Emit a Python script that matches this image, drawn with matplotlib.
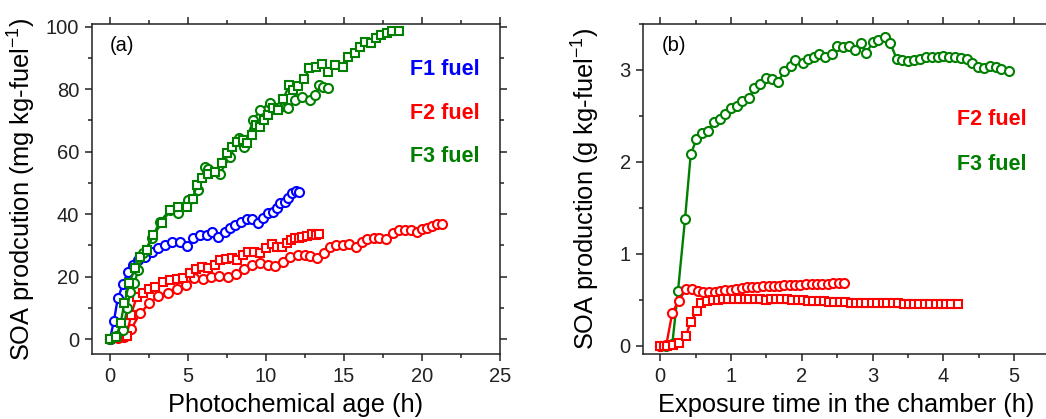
import matplotlib
matplotlib.use("Agg")
import matplotlib.pyplot as plt
from matplotlib.ticker import MultipleLocator

plt.rcParams['font.family'] = ['Liberation Sans', 'DejaVu Sans']
plt.rcParams['mathtext.fontset'] = 'custom'
plt.rcParams['mathtext.rm'] = 'Liberation Sans'
plt.rcParams['mathtext.default'] = 'regular'

# ---- panel (a): photochemical age (h) vs SOA (mg/kg-fuel)
f1_age = [0, 0.25, 0.5, 0.83, 1.15, 1.5, 1.81, 2.24, 2.67, 3.1, 3.53, 3.95, 4.49, 4.91,
          5.34, 5.77, 6.2, 6.56, 6.94, 7.37, 7.69, 8.0, 8.4, 8.76, 9.12, 9.5, 9.83, 10.15,
          10.47, 10.68, 10.9, 11.2, 11.4, 11.65, 11.9, 12.1]
f1_soa = [0, 5.8, 13, 17.5, 21.6, 23.7, 25.3, 26.4, 28, 29, 30.1, 31.2, 31.2, 29.8,
          32.2, 33.3, 33.3, 34.4, 32.8, 34.4, 35.4, 36.5, 37.6, 38.3, 38.3, 37.2, 38.6, 40.2,
          40.8, 41.8, 43.4, 44, 45, 46.6, 47.5, 47]

f2c_age = [0, 0.5, 0.9, 1.35, 1.92, 2.52, 3.1, 3.7, 4.27, 4.87, 5.38, 5.94, 6.45, 6.99,
           7.54, 8.08, 8.61, 9.12, 9.62, 10.1, 10.58, 11.07, 11.54, 12.03, 12.5, 12.82, 13.25,
           13.7, 14.1, 14.5, 14.96, 15.3, 15.77, 16.13, 16.5, 16.9, 17.26, 17.7, 18.16, 18.5,
           18.9, 19.3, 19.66, 19.98, 20.3, 20.62, 20.94, 21.26]
f2c_soa = [0, 0.3, 0.6, 3.1, 8.2, 11.4, 13.8, 14.6, 15.9, 17.3, 19.4, 19.1, 19.9, 20.2,
           19.9, 20.8, 22.3, 23.7, 24.2, 23.7, 23.4, 24.8, 26.2, 26.9, 26.9, 26.6, 26,
           27.4, 29.6, 30.1, 30.1, 30.3, 29.4, 31.2, 31.9, 32.4, 32.4, 31.9, 33.8, 34.9,
           34.9, 34.9, 34.4, 35.1, 35.7, 36.3, 36.8, 36.8]

f2s_age = [0, 0.53, 1.07, 1.35, 1.71, 2.14, 2.52, 2.88, 3.42, 3.85, 4.27, 4.7, 5.13, 5.51,
           5.88, 6.3, 6.73, 7.05, 7.44, 7.8, 8.12, 8.5, 8.87, 9.23, 9.62, 10.0, 10.37, 10.68,
           11.0, 11.33, 11.58, 11.83, 12.1, 12.33, 12.6, 12.93, 13.2, 13.4]
f2s_soa = [0, 0.7, 1.0, 7.7, 13.5, 14.6, 15.9, 16.8, 18.4, 18.9, 19.1, 19.4, 21.2, 22.3,
           23.2, 22.6, 23.7, 25.3, 25.5, 25.8, 25.3, 26.9, 27.8, 28, 27.4, 29, 30.3, 29.6,
           29.6, 30.6, 31.7, 32.2, 32.5, 32.8, 33.1, 33.6, 33.3, 33.5]

f3c_age = [0, 0.4, 0.85, 1.1, 1.3, 1.56, 1.8, 2.14, 2.67, 3.2, 3.85, 4.38, 5.02, 5.66,
           6.09, 6.3, 7.05, 7.69, 8.29, 8.59, 9.19, 9.62, 10.26, 10.9, 11.43, 11.86, 12.29,
           12.82, 13.14, 13.42, 13.67, 14.0]
f3c_soa = [0, 1, 2.9, 10, 15, 17.8, 22, 27.4, 32.2, 37.6, 41.3, 40.2, 44.5, 47.7,
           55.2, 54.6, 53, 58.4, 64.3, 61.6, 70.1, 73.3, 75.5, 74.4, 73.9, 76.5, 77.6,
           76.5, 78.1, 81.3, 80.8, 80.3]

f3s_age = [0, 0.38, 0.69, 0.92, 1.24, 1.6, 1.92, 2.35, 2.78, 3.31, 3.85, 4.38, 4.91, 5.3,
           5.56, 5.88, 6.3, 6.73, 7.16, 7.48, 7.8, 8.16, 8.5, 8.8, 9.08, 9.36, 9.62, 9.87,
           10.15, 10.47, 10.79, 11.1, 11.5, 11.75, 12.07, 12.44, 12.78, 13.2, 13.57, 14.0,
           14.42, 14.96, 15.28, 15.7, 16.03, 16.35, 16.7, 17.05, 17.4, 17.78, 18.1, 18.54]
f3s_soa = [0, 0.5, 5.2, 11.6, 18, 22.6, 26.4, 28.5, 33.3, 37, 41.3, 42.2, 42.4, 44.8,
           49.3, 51.5, 53, 53.6, 56.3, 59.5, 61.6, 63.2, 63.7, 62.7, 65.3, 68.5, 68, 70.1,
           71.7, 73.9, 73.3, 76.8, 81.3, 79.7, 81, 83.1, 86.7, 87.2, 88, 85.6,
           87.7, 87.2, 90.4, 91.7, 93.6, 95.2, 94.9, 96.3, 97.3, 98.1, 98.7, 98.7]

# ---- panel (b): exposure time (h) vs SOA (g/kg-fuel)
b3_t = [0, 0.08, 0.17, 0.25, 0.35, 0.43, 0.51, 0.59, 0.67, 0.76, 0.84, 0.92, 1.0, 1.08,
        1.16, 1.25, 1.33, 1.41, 1.5, 1.58, 1.67, 1.75, 1.84, 1.91, 2.01, 2.09, 2.17, 2.24,
        2.33, 2.42, 2.5, 2.58, 2.67, 2.75, 2.83, 2.91, 3.0, 3.08, 3.17, 3.25, 3.34, 3.42,
        3.5, 3.58, 3.67, 3.75, 3.84, 3.92, 4.0, 4.08, 4.16, 4.25, 4.33, 4.41, 4.49, 4.58,
        4.66, 4.74, 4.82, 4.92]
b3_soa = [0, 0, 0.02, 0.595, 1.38, 2.08, 2.245, 2.31, 2.33, 2.43, 2.47, 2.52, 2.58, 2.61,
          2.66, 2.69, 2.8, 2.85, 2.91, 2.9, 2.87, 2.99, 3.04, 3.11, 3.08, 3.12, 3.14, 3.17,
          3.14, 3.17, 3.26, 3.25, 3.26, 3.22, 3.29, 3.18, 3.3, 3.33, 3.36, 3.29, 3.12, 3.11,
          3.1, 3.11, 3.12, 3.14, 3.14, 3.145, 3.15, 3.145, 3.14, 3.13, 3.12, 3.08, 3.03, 3.02,
          3.04, 3.03, 3.01, 2.99]

b2c_t = [0, 0.085, 0.17, 0.26, 0.37, 0.45, 0.53, 0.61, 0.69, 0.77, 0.84, 0.92, 1.0, 1.07,
         1.15, 1.22, 1.3, 1.37, 1.45, 1.53, 1.6, 1.68, 1.75, 1.83, 1.91, 1.98, 2.06, 2.14,
         2.21, 2.29, 2.37, 2.44, 2.52, 2.6]
b2c_soa = [0, 0.01, 0.36, 0.49, 0.62, 0.615, 0.6, 0.585, 0.585, 0.59, 0.6, 0.61, 0.61, 0.62,
           0.63, 0.635, 0.64, 0.64, 0.645, 0.65, 0.65, 0.655, 0.66, 0.665, 0.665, 0.665, 0.67, 0.67,
           0.67, 0.675, 0.675, 0.68, 0.68, 0.68]

b2s_t = [0, 0.05, 0.1, 0.18, 0.27, 0.36, 0.43, 0.52, 0.58, 0.66, 0.74, 0.81, 0.89, 0.96,
         1.04, 1.11, 1.19, 1.26, 1.34, 1.41, 1.49, 1.56, 1.64, 1.71, 1.79, 1.86, 1.94, 2.01,
         2.09, 2.16, 2.24, 2.31, 2.39, 2.46, 2.54, 2.61, 2.69, 2.76, 2.84, 2.91, 2.99, 3.06,
         3.14, 3.21, 3.29, 3.36, 3.44, 3.51, 3.59, 3.66, 3.74, 3.81, 3.89, 3.96, 4.04, 4.11,
         4.21]
b2s_soa = [0, 0, 0, 0.01, 0.03, 0.105, 0.26, 0.38, 0.47, 0.49, 0.5, 0.5, 0.505, 0.505,
           0.505, 0.51, 0.51, 0.505, 0.505, 0.505, 0.5, 0.505, 0.505, 0.51, 0.505, 0.5, 0.5, 0.495,
           0.49, 0.49, 0.49, 0.485, 0.48, 0.48, 0.48, 0.475, 0.465, 0.47, 0.47, 0.465, 0.46, 0.46,
           0.46, 0.46, 0.46, 0.46, 0.455, 0.455, 0.455, 0.455, 0.45, 0.45, 0.45, 0.45, 0.45, 0.45,
           0.45]

BLUE = '#0000ff'
RED = '#ff0000'
GREEN = '#007f00'

fig = plt.figure(figsize=(10.46, 4.19), dpi=100)
ax1 = fig.add_axes([0.0877, 0.155, 0.3903, 0.788])
ax2 = fig.add_axes([0.615, 0.155, 0.3884, 0.788])


def series(ax, x, y, color, marker, ms):
    ax.plot(x, y, color=color, lw=1.7, marker=marker, ms=ms, mfc='white',
            mec=color, mew=1.5, clip_on=False)


series(ax1, f2c_age, f2c_soa, RED, 'o', 6.5)
series(ax1, f2s_age, f2s_soa, RED, 's', 5.8)
series(ax1, f1_age, f1_soa, BLUE, 'o', 6.5)
series(ax1, f3c_age, f3c_soa, GREEN, 'o', 6.5)
series(ax1, f3s_age, f3s_soa, GREEN, 's', 5.8)

series(ax2, b3_t, b3_soa, GREEN, 'o', 6.5)
series(ax2, b2c_t, b2c_soa, RED, 'o', 6.5)
series(ax2, b2s_t, b2s_soa, RED, 's', 5.8)

ax1.set_xlim(-1.17, 25)
ax1.set_ylim(-4.8, 100.9)
ax1.xaxis.set_major_locator(MultipleLocator(5))
ax1.xaxis.set_minor_locator(MultipleLocator(2.5))
ax1.yaxis.set_major_locator(MultipleLocator(20))
ax1.yaxis.set_minor_locator(MultipleLocator(10))

ax2.set_xlim(-0.24, 5.5)
ax2.set_ylim(-0.09, 3.5)
ax2.xaxis.set_major_locator(MultipleLocator(1))
ax2.xaxis.set_minor_locator(MultipleLocator(0.5))
ax2.yaxis.set_major_locator(MultipleLocator(1))
ax2.yaxis.set_minor_locator(MultipleLocator(0.5))

for ax in (ax1, ax2):
    ax.tick_params(which='both', direction='out', top=True, right=True,
                   labelsize=14.5, width=1.1, colors='#222222')
    ax.tick_params(which='major', length=5, pad=4)
    ax.tick_params(which='minor', length=3)
    for sp in ax.spines.values():
        sp.set_linewidth(1.1)
        sp.set_color('#222222')

ax1.set_xlabel('Photochemical age (h)', fontsize=18.3)
ax1.set_ylabel('SOA prodcution (mg kg-fuel$^{-1}$)', fontsize=18.3)
ax2.set_xlabel('Exposure time in the chamber (h)', fontsize=18.3)
ax2.set_ylabel('SOA production (g kg-fuel$^{-1}$)', fontsize=18.3)
ax1.xaxis.set_label_coords(0.5, -0.118)
ax2.xaxis.set_label_coords(0.5, -0.118)
ax1.yaxis.set_label_coords(-0.131, 0.5)
ax2.yaxis.set_label_coords(-0.102, 0.5)

ax1.text(0.045, 0.936, '(a)', transform=ax1.transAxes, fontsize=14.5, va='center')
ax1.text(0.78, 0.862, 'F1 fuel', transform=ax1.transAxes, fontsize=15.5,
         fontweight='bold', color=BLUE, va='center')
ax1.text(0.78, 0.73, 'F2 fuel', transform=ax1.transAxes, fontsize=15.5,
         fontweight='bold', color=RED, va='center')
ax1.text(0.78, 0.599, 'F3 fuel', transform=ax1.transAxes, fontsize=15.5,
         fontweight='bold', color=GREEN, va='center')

ax2.text(0.045, 0.936, '(b)', transform=ax2.transAxes, fontsize=14.5, va='center')
ax2.text(0.772, 0.709, 'F2 fuel', transform=ax2.transAxes, fontsize=15.5,
         fontweight='bold', color=RED, va='center')
ax2.text(0.772, 0.573, 'F3 fuel', transform=ax2.transAxes, fontsize=15.5,
         fontweight='bold', color=GREEN, va='center')

fig.savefig('out.png', dpi=100)
